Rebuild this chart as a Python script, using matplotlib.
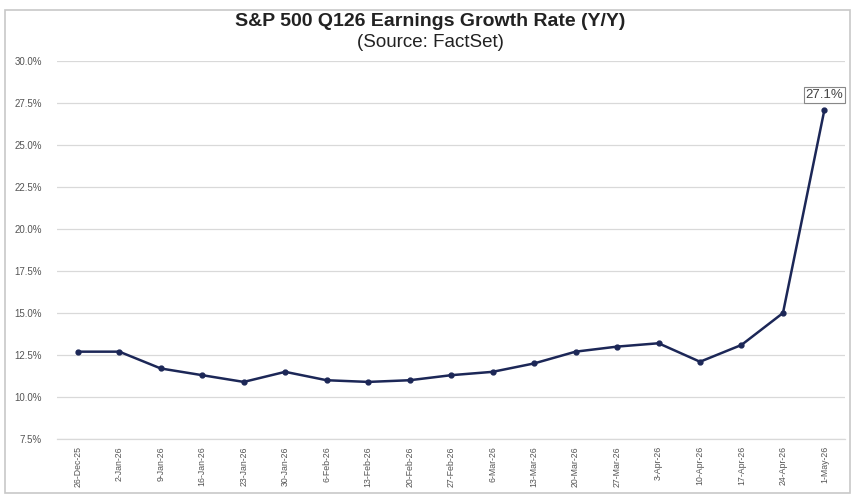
import matplotlib.pyplot as plt
from matplotlib.patches import Rectangle
from matplotlib.ticker import FuncFormatter

dates = ["26-Dec-25", "2-Jan-26", "9-Jan-26", "16-Jan-26", "23-Jan-26",
         "30-Jan-26", "6-Feb-26", "13-Feb-26", "20-Feb-26", "27-Feb-26",
         "6-Mar-26", "13-Mar-26", "20-Mar-26", "27-Mar-26", "3-Apr-26",
         "10-Apr-26", "17-Apr-26", "24-Apr-26", "1-May-26"]
growth = [12.7, 12.7, 11.7, 11.3, 10.9, 11.5, 11.0, 10.9, 11.0, 11.3,
          11.5, 12.0, 12.7, 13.0, 13.2, 12.1, 13.1, 15.0, 27.1]
y_ticks = [7.5, 10.0, 12.5, 15.0, 17.5, 20.0, 22.5, 25.0, 27.5, 30.0]


def main():
    plt.rcParams["font.family"] = ["Liberation Sans", "DejaVu Sans"]
    fig = plt.figure(figsize=(8.52, 4.95), dpi=100)
    ax = fig.add_axes([0.067, 0.113, 0.925, 0.764])

    x = list(range(len(dates)))
    ax.plot(x, growth, color="#1c2757", linewidth=1.8, marker="o",
            markersize=3.5, zorder=3)

    ax.set_ylim(7.5, 30.0)
    ax.set_xlim(-0.5, len(dates) - 0.5)
    ax.set_yticks(y_ticks)
    ax.yaxis.set_major_formatter(FuncFormatter(lambda v, p: f"{v:.1f}%"))
    ax.set_xticks(x)
    ax.set_xticklabels(dates, rotation=90)
    ax.tick_params(axis="both", length=0, colors="#555555")
    ax.tick_params(axis="y", labelsize=7, pad=11)
    ax.tick_params(axis="x", labelsize=6.3, pad=5)
    ax.grid(axis="y", color="#d9d9d9", linewidth=0.9)
    ax.set_axisbelow(True)
    for side in ["top", "right", "left"]:
        ax.spines[side].set_visible(False)
    ax.spines["bottom"].set_color("#d9d9d9")
    ax.spines["bottom"].set_linewidth(0.9)

    # label on the last point
    ax.annotate(f"{growth[-1]:.1f}%", (x[-1], growth[-1]),
                xytext=(0, 6), textcoords="offset points",
                ha="center", va="bottom", fontsize=9.5, color="#444444",
                bbox=dict(boxstyle="square,pad=0.15", fc="white",
                          ec="#888888", lw=0.8))

    fig.text(0.505, 0.957, "S&P 500 Q126 Earnings Growth Rate (Y/Y)",
             ha="center", va="center", fontsize=14, fontweight="bold",
             color="#222222")
    fig.text(0.505, 0.915, "(Source: FactSet)", ha="center", va="center",
             fontsize=13.5, color="#222222")

    # chart area border
    fig.patches.append(Rectangle((0.006, 0.005), 0.992, 0.975,
                                 transform=fig.transFigure, fill=False,
                                 ec="#c8c8c8", lw=1.2))

    fig.savefig("out.png", dpi=100)


if __name__ == "__main__":
    main()
